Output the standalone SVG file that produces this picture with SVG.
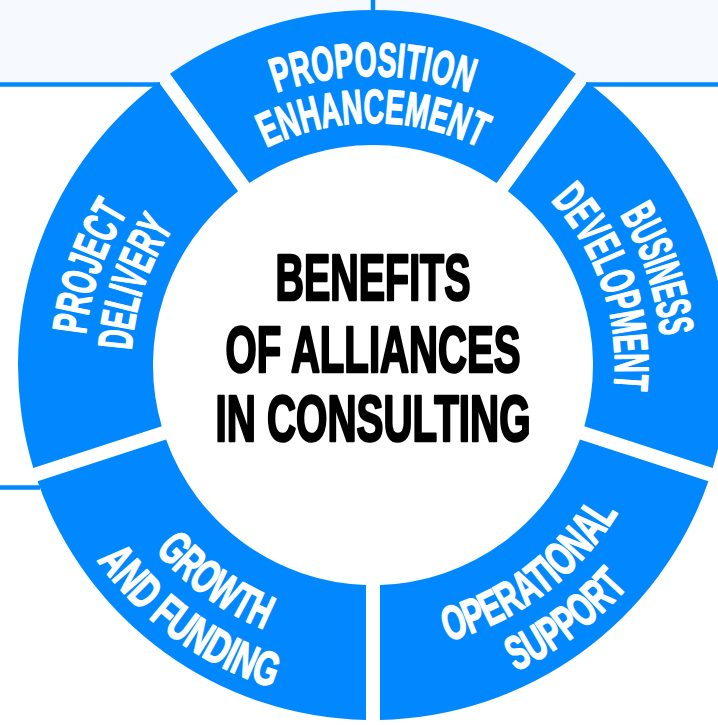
<svg xmlns="http://www.w3.org/2000/svg" width="718" height="725" viewBox="0 0 718 725">
<style>
.seg{fill:#0288FE}
.ln{stroke:#0288FE;stroke-width:4.5;fill:none}
.lbl{font-family:"Liberation Sans",Arial,sans-serif;font-weight:bold;font-size:48px;fill:#fff;stroke:#fff;stroke-width:1.6;stroke-linejoin:round}
.ctr{font-family:"Liberation Sans",Arial,sans-serif;font-weight:bold;font-size:65px;fill:#000;stroke:#000;stroke-width:2.6;stroke-linejoin:round;text-anchor:middle}
</style>
<defs>
<path id="pProp" d="M101.43,266.16 A289,289 0 0 1 644.57,266.16"/>
<path id="pEnh" d="M145.59,282.23 A242,242 0 0 1 600.41,282.23"/>
<path id="pProj" d="M191.13,589.60 A289,289 0 0 1 367.96,76.04"/>
<path id="pDel" d="M220.70,553.07 A242,242 0 0 1 368.78,123.04"/>
<path id="pBus" d="M380.57,76.10 A289,289 0 0 1 552.91,591.17"/>
<path id="pDev" d="M379.33,123.08 A242,242 0 0 1 523.65,554.39"/>
<path id="pOpe" d="M217.23,604.86 A286,286 0 0 0 646.50,281.38"/>
<path id="pSup" d="M188.91,648.47 A338,338 0 0 0 696.23,266.18"/>
<path id="pGro" d="M98.08,286.17 A286,286 0 0 0 532.93,602.10"/>
<path id="pAnd" d="M48.09,271.83 A338,338 0 0 0 562.01,645.22"/>
</defs>
<rect x="0" y="0" width="718" height="725" fill="#fff"/>
<rect x="0" y="0" width="718" height="84" fill="#F6FAFF"/>
<g id="connectors">
<line class="ln" x1="0" y1="84.5" x2="160" y2="84.5"/>
<line class="ln" x1="586" y1="84.5" x2="718" y2="84.5"/>
<line class="ln" x1="373" y1="0" x2="373" y2="14"/>
<line class="ln" x1="0" y1="487.5" x2="40" y2="487.5"/>
</g>
<g id="proposition-enhancement">
<path class="seg" d="M170.04,73.74 A355,355 0 0 1 575.96,73.74 L496.59,182.99 A220,220 0 0 0 249.41,182.99 Z"/>
<text class="lbl"><textPath href="#pProp" startOffset="50%" text-anchor="middle" textLength="197" lengthAdjust="spacingAndGlyphs">PROPOSITION</textPath></text>
<text class="lbl"><textPath href="#pEnh" startOffset="50%" text-anchor="middle" textLength="221" lengthAdjust="spacingAndGlyphs">ENHANCEMENT</textPath></text>
</g>
<g id="business-development">
<path class="seg" d="M587.29,81.97 A355,355 0 0 1 712.72,468.02 L584.29,426.29 A220,220 0 0 0 507.91,191.22 Z"/>
<text class="lbl"><textPath href="#pBus" startOffset="50%" text-anchor="middle" textLength="129" lengthAdjust="spacingAndGlyphs">BUSINESS</textPath></text>
<text class="lbl"><textPath href="#pDev" startOffset="50%" text-anchor="middle" textLength="205" lengthAdjust="spacingAndGlyphs">DEVELOPMENT</textPath></text>
</g>
<g id="operational-support">
<path class="seg" d="M708.40,481.34 A355,355 0 0 1 380.00,719.93 L380.00,584.89 A220,220 0 0 0 579.96,439.61 Z"/>
<text class="lbl"><textPath href="#pOpe" startOffset="50%" text-anchor="middle" textLength="219" lengthAdjust="spacingAndGlyphs">OPERATIONAL</textPath></text>
<text class="lbl"><textPath href="#pSup" startOffset="50%" text-anchor="middle" textLength="142" lengthAdjust="spacingAndGlyphs">SUPPORT</textPath></text>
</g>
<g id="growth-funding">
<path class="seg" d="M366.00,719.93 A355,355 0 0 1 37.60,481.34 L166.04,439.61 A220,220 0 0 0 366.00,584.89 Z"/>
<text class="lbl"><textPath href="#pGro" startOffset="50%" text-anchor="middle" textLength="136" lengthAdjust="spacingAndGlyphs">GROWTH</textPath></text>
<text class="lbl"><textPath href="#pAnd" startOffset="50%" text-anchor="middle" textLength="221" lengthAdjust="spacingAndGlyphs">AND FUNDING</textPath></text>
</g>
<g id="project-delivery">
<path class="seg" d="M33.28,468.02 A355,355 0 0 1 158.71,81.97 L238.09,191.22 A220,220 0 0 0 161.71,426.29 Z"/>
<text class="lbl"><textPath href="#pProj" startOffset="50%" text-anchor="middle" textLength="131" lengthAdjust="spacingAndGlyphs">PROJECT</textPath></text>
<text class="lbl"><textPath href="#pDel" startOffset="50%" text-anchor="middle" textLength="131" lengthAdjust="spacingAndGlyphs">DELIVERY</textPath></text>
</g>
<g id="center">
<text class="ctr" x="373" y="300" textLength="195" lengthAdjust="spacingAndGlyphs">BENEFITS</text>
<text class="ctr" x="373" y="372" textLength="295" lengthAdjust="spacingAndGlyphs">OF ALLIANCES</text>
<text class="ctr" x="373" y="441" textLength="315" lengthAdjust="spacingAndGlyphs">IN CONSULTING</text>
</g>
</svg>
